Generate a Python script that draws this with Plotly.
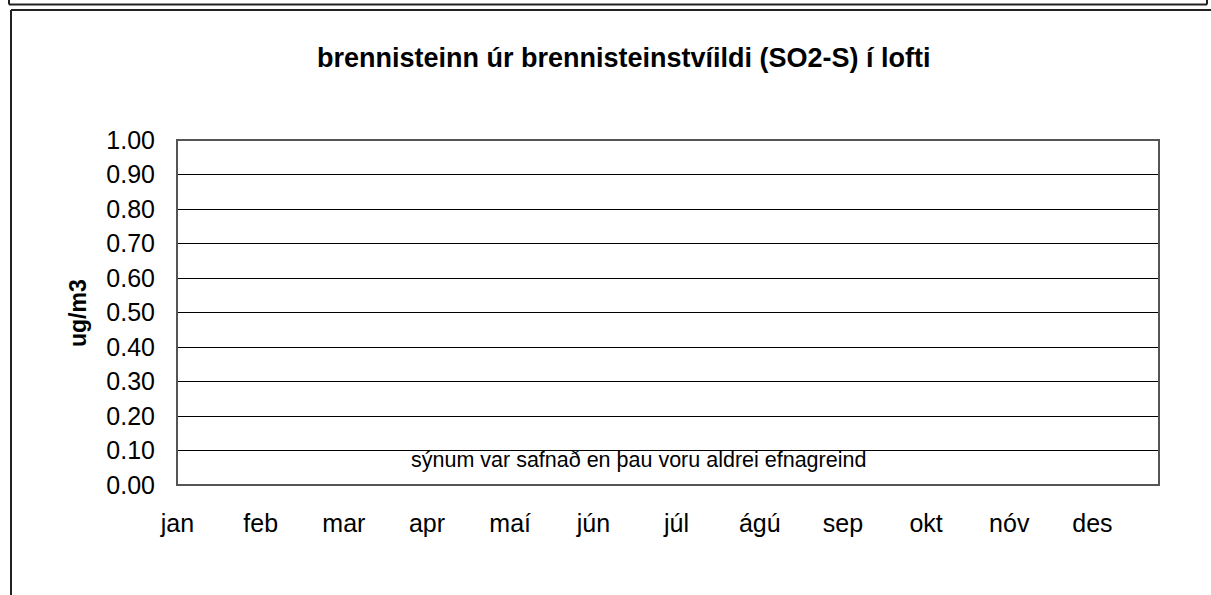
import plotly.graph_objects as go

months = ["jan", "feb", "mar", "apr", "maí", "jún", "júl", "ágú", "sep", "okt", "nóv", "des"]
values = [None, None, None, None, None, None, None, None, None, None, None, None]
y_ticks = [0.0, 0.1, 0.2, 0.3, 0.4, 0.5, 0.6, 0.7, 0.8, 0.9, 1.0]
title = "brennisteinn úr brennisteinstvíildi (SO2-S) í lofti"
y_title = "ug/m3"
note = "sýnum var safnað en þau voru aldrei efnagreind"

W, H = 1211, 595
L, R, T, B = 177, 1159, 140, 485

def px(x):
    return (x - L) / (R - L)

def py(y):
    return (B - y) / (B - T)

FONT = "Liberation Sans, Arial, sans-serif"

fig = go.Figure()
fig.add_trace(go.Scatter(x=list(range(len(months))), y=values, mode="lines",
                         line=dict(color="black"), showlegend=False, hoverinfo="skip"))

fig.update_layout(
    width=W, height=H,
    margin=dict(l=L, r=W - R, t=T, b=H - B),
    paper_bgcolor="white", plot_bgcolor="white",
    font=dict(family=FONT, color="black"),
    showlegend=False,
    xaxis=dict(range=[-0.006, 11.80], tickmode="array", tickvals=list(range(len(months))),
               ticktext=months, showgrid=False, zeroline=False, showline=False,
               ticks="", tickfont=dict(size=25), ticklabelstandoff=21),
    yaxis=dict(range=[0, 1.0], tickmode="array", tickvals=y_ticks,
               ticktext=[f"{v:.2f}" for v in y_ticks], showgrid=True,
               gridcolor="black", gridwidth=1, zeroline=False, showline=False,
               ticks="", tickfont=dict(size=25), ticklabelstandoff=21),
)

shapes = []
# plot area border
shapes.append(dict(type="rect", xref="paper", yref="paper", x0=0, x1=1, y0=0, y1=1,
                   line=dict(color="#555555", width=2)))
# outer chart frame
frame = dict(color="#222222", width=2)
shapes.append(dict(type="line", xref="paper", yref="paper", x0=px(11), x1=px(11), y0=py(10), y1=py(600), line=frame))
shapes.append(dict(type="line", xref="paper", yref="paper", x0=px(11), x1=px(1215), y0=py(10), y1=py(10), line=frame))
# bottom of previous frame
shapes.append(dict(type="line", xref="paper", yref="paper", x0=px(9), x1=px(1207), y0=py(4.5), y1=py(4.5), line=frame))
shapes.append(dict(type="line", xref="paper", yref="paper", x0=px(9), x1=px(9), y0=py(-5), y1=py(4.5), line=frame))
shapes.append(dict(type="line", xref="paper", yref="paper", x0=px(1207), x1=px(1207), y0=py(-5), y1=py(4.5), line=frame))
fig.update_layout(shapes=shapes)

fig.add_annotation(text=f"<b>{title}</b>", xref="paper", yref="paper", x=px(624), y=py(58),
                   showarrow=False, font=dict(size=27, family=FONT), xanchor="center", yanchor="middle")
fig.add_annotation(text=f"<b>{y_title}</b>", xref="paper", yref="paper", x=px(78), y=py(313),
                   showarrow=False, textangle=-90, font=dict(size=23, family=FONT),
                   xanchor="center", yanchor="middle")
fig.add_annotation(text=note, xref="paper", yref="paper", x=px(638.5), y=py(460),
                   showarrow=False, font=dict(size=21.5, family=FONT), xanchor="center", yanchor="middle")

fig.write_html("out.html", config={"displayModeBar": False},
               post_script="document.body.style.margin='0';document.body.style.overflow='hidden';")
